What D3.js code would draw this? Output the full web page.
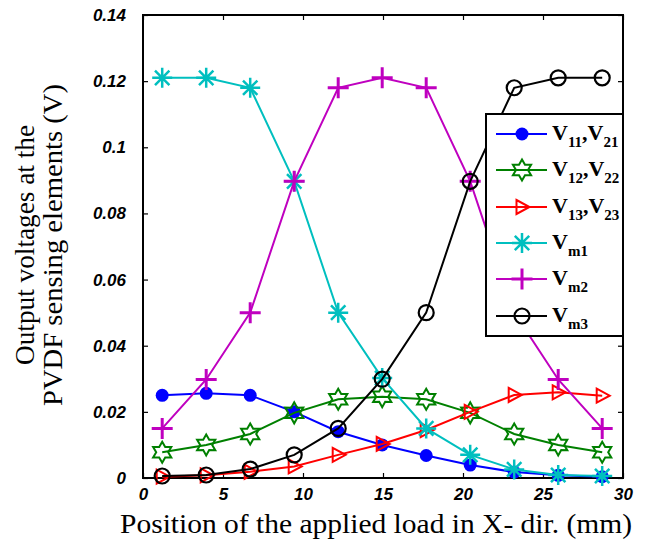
<!DOCTYPE html>
<html><head><meta charset="utf-8">
<script src="https://cdn.jsdelivr.net/npm/d3@7"></script>
<style>body{margin:0;background:#fff}svg{display:block}</style>
</head><body>
<script>
const xPos = [1.2, 3.95, 6.7, 9.45, 12.2, 14.95, 17.7, 20.45, 23.2, 25.95, 28.7];
const v11 = [0.025, 0.0256, 0.025, 0.020, 0.014, 0.010, 0.0068, 0.0039, 0.0018, 0.0008, 0.0004];
const v12 = [0.0078, 0.010, 0.0133, 0.0197, 0.0238, 0.0246, 0.0238, 0.0197, 0.0133, 0.010, 0.0078];
const v13 = [0.0004, 0.0008, 0.0019, 0.0035, 0.007, 0.0103, 0.0145, 0.020, 0.0251, 0.0259, 0.0249];
const vm1 = [0.121, 0.121, 0.118, 0.0897, 0.05, 0.0302, 0.015, 0.007, 0.0026, 0.0009, 0.0006];
const vm2 = [0.015, 0.0298, 0.05, 0.0897, 0.118, 0.121, 0.118, 0.0897, 0.05, 0.0298, 0.015];
const vm3 = [0.0006, 0.0009, 0.0027, 0.007, 0.015, 0.0299, 0.05, 0.0897, 0.118, 0.121, 0.121];
const xTicks = [0, 5, 10, 15, 20, 25, 30];
const yTicks = [0, 0.02, 0.04, 0.06, 0.08, 0.1, 0.12, 0.14];
const yTickLabels = ["0", "0.02", "0.04", "0.06", "0.08", "0.1", "0.12", "0.14"];
const seriesNames = [["11","21"],["12","22"],["13","23"],["m1"],["m2"],["m3"]];
const seriesColors = ["#0000ff", "#008000", "#ff0000", "#00bfbf", "#bf00bf", "#000000"];
const seriesMarkers = ["dot", "hexagram", "triangle", "asterisk", "plus", "circle"];
const seriesValues = [v11, v12, v13, vm1, vm2, vm3];

const W = 658, H = 540;
const M = {left: 143, right: 623, top: 15, bottom: 478};
const svg = d3.select("body").append("svg").attr("width", W).attr("height", H);
const x = d3.scaleLinear().domain([0, 30]).range([M.left, M.right]);
const y = d3.scaleLinear().domain([0, 0.14]).range([M.bottom, M.top]);

const tickFont = "'Liberation Sans', Arial, sans-serif";
const axB = d3.axisBottom(x).tickValues(xTicks).tickSize(-5).tickPadding(10).tickFormat(d3.format("d"));
const axT = d3.axisTop(x).tickValues(xTicks).tickSize(-5).tickFormat("");
const axL = d3.axisLeft(y).tickValues(yTicks).tickSize(-5).tickPadding(17).tickFormat((d,i)=>yTickLabels[i]);
const axR = d3.axisRight(y).tickValues(yTicks).tickSize(-5).tickFormat("");
function styleAx(g){
  g.select(".domain").remove();
  g.selectAll("line").attr("stroke","#000").attr("stroke-width",1.2);
  g.selectAll("text").attr("font-family",tickFont).attr("font-weight","bold").attr("font-style","italic").attr("font-size",17).attr("fill","#000");
}
svg.append("g").attr("transform",`translate(0,${M.bottom})`).call(axB).call(styleAx);
svg.append("g").attr("transform",`translate(0,${M.top})`).call(axT).call(styleAx);
svg.append("g").attr("transform",`translate(${M.left},0)`).call(axL).call(styleAx);
svg.append("g").attr("transform",`translate(${M.right},0)`).call(axR).call(styleAx);

svg.append("rect").attr("x",M.left).attr("y",M.top).attr("width",M.right-M.left).attr("height",M.bottom-M.top)
  .attr("fill","none").attr("stroke","#000").attr("stroke-width",2);

function hexagramPath(R, r){
  let p = [];
  for(let i=0;i<12;i++){
    const a = -Math.PI/2 + i*Math.PI/6;
    const rad = i%2===0 ? R : r;
    p.push([rad*Math.cos(a), rad*Math.sin(a)]);
  }
  return "M" + p.map(q=>q[0].toFixed(2)+","+q[1].toFixed(2)).join("L") + "Z";
}
function drawMarker(g, type, color, cx, cy){
  const m = g.append("g").attr("transform",`translate(${cx},${cy})`);
  if(type==="dot"){
    m.append("circle").attr("r",6.5).attr("fill",color);
  } else if(type==="circle"){
    m.append("circle").attr("r",7.5).attr("fill","none").attr("stroke",color).attr("stroke-width",2.2);
  } else if(type==="hexagram"){
    m.append("path").attr("d",hexagramPath(10.5,6)).attr("fill","none").attr("stroke",color).attr("stroke-width",2);
  } else if(type==="triangle"){
    m.append("path").attr("d","M-5.5,-7L7.5,0L-5.5,7Z").attr("fill","none").attr("stroke",color).attr("stroke-width",2);
  } else if(type==="plus"){
    m.append("path").attr("d","M-10.5,0H10.5M0,-10.5V10.5").attr("stroke",color).attr("stroke-width",3).attr("fill","none");
  } else if(type==="asterisk"){
    const s = 7.2;
    m.append("path").attr("d",`M-10,0H10M0,-10V10M${-s},${-s}L${s},${s}M${-s},${s}L${s},${-s}`).attr("stroke",color).attr("stroke-width",2.5).attr("fill","none");
  }
}

const line = d3.line().x(d=>x(d[0])).y(d=>y(d[1]));
const plot = svg.append("g");
seriesValues.forEach((vals, si)=>{
  const g = plot.append("g");
  const pts = vals.map((v,i)=>[xPos[i], v]);
  g.append("path").attr("d",line(pts)).attr("fill","none").attr("stroke",seriesColors[si]).attr("stroke-width",2);
  pts.forEach(p=>drawMarker(g, seriesMarkers[si], seriesColors[si], x(p[0]), y(p[1])));
});

const lg = svg.append("g");
lg.append("rect").attr("x",486).attr("y",114).attr("width",137).attr("height",222)
  .attr("fill","#fff").attr("stroke","#000").attr("stroke-width",2);
const rowY = [134, 170, 207, 243, 279, 316];
const serif = "'Liberation Serif', 'Times New Roman', serif";
seriesNames.forEach((nm, si)=>{
  const yy = rowY[si];
  lg.append("line").attr("x1",496).attr("x2",547).attr("y1",yy).attr("y2",yy).attr("stroke",seriesColors[si]).attr("stroke-width",2);
  drawMarker(lg, seriesMarkers[si], seriesColors[si], 522, yy);
  const t = lg.append("text").attr("x",552).attr("y",yy+6).attr("font-family",serif).attr("font-weight","bold").attr("font-size",22).attr("fill","#000");
  t.append("tspan").text("V");
  t.append("tspan").attr("font-size",15).attr("dy",7).text(nm[0]);
  if(nm.length>1){
    t.append("tspan").attr("dy",-7).attr("font-size",22).text(",V");
    t.append("tspan").attr("font-size",15).attr("dy",7).text(nm[1]);
  }
});

svg.append("text").attr("x",376).attr("y",533).attr("text-anchor","middle")
  .attr("font-family",serif).attr("font-size",27).attr("fill","#000")
  .attr("textLength",512).attr("lengthAdjust","spacingAndGlyphs")
  .text("Position of the applied load in X- dir. (mm)");
const yt = svg.append("text").attr("transform","translate(0,245) rotate(-90)")
  .attr("text-anchor","middle").attr("font-family",serif).attr("font-size",27).attr("fill","#000");
yt.append("tspan").attr("x",0).attr("y",34).attr("textLength",240).attr("lengthAdjust","spacingAndGlyphs").text("Output voltages at the");
yt.append("tspan").attr("x",0).attr("y",62).attr("textLength",322).attr("lengthAdjust","spacingAndGlyphs").text("PVDF sensing elements (V)");
</script>
</body></html>
